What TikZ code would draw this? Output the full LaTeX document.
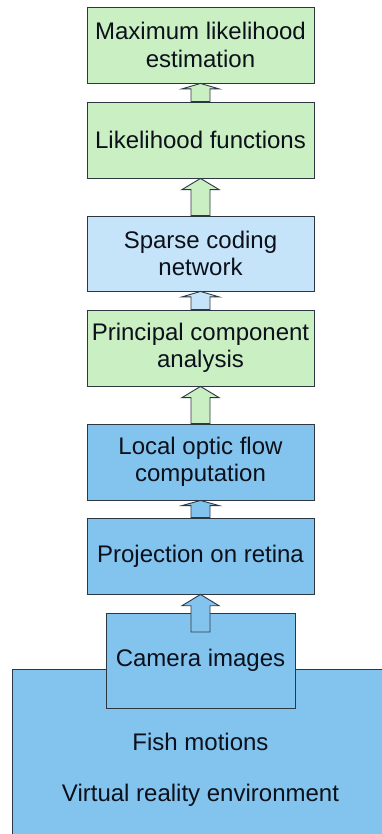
\documentclass[tikz,border=0pt]{standalone}
\usepackage{fontspec}
\setmainfont{Liberation Sans}
\usepackage{xcolor}
\definecolor{ColG}{RGB}{202,239,194}
\definecolor{ColL}{RGB}{198,228,249}
\definecolor{ColB}{RGB}{131,196,238}
\definecolor{ColLine}{RGB}{45,55,65}
\definecolor{ColText}{RGB}{12,16,26}
\usepackage{tikz}
\usetikzlibrary{calc}
\tikzstyle{Box}=[rectangle,draw=ColLine,line width=0.9pt,inner sep=0pt,
minimum width=227pt,minimum height=76pt,align=center,text=ColText,
font=\fontsize{24}{27.5}\selectfont]
\tikzstyle{Label}=[inner sep=0pt,text=ColText,font=\fontsize{24}{27.5}\selectfont]
\tikzstyle{Arrow}=[draw=ColLine,line width=0.9pt,line join=miter]
% hollow block arrow from #2 up to #3, filled with #1
\newcommand{\BlockArrow}[3]{%
  \draw[Arrow,fill=#1] let \p1=(#2),\p2=(#3),\n1={0.3*(\y2-\y1)} in
    (\x1-9.5pt,\y1)--(\x1-9.5pt,\y2-\n1)--(\x1-18.5pt,\y2-\n1)--(\x1,\y2)
    --(\x1+18.5pt,\y2-\n1)--(\x1+9.5pt,\y2-\n1)--(\x1+9.5pt,\y1)--cycle;}

\begin{document}
\begin{tikzpicture}[x=1pt,y=-1pt]
    \useasboundingbox (0,0) rectangle (382,834);
    \clip (0,0) rectangle (382,834);
        \node[Box,fill=ColB,minimum width=377pt,minimum height=220pt,anchor=north west](env)at(12,669){};
        \node[Label](fish)at(200.5,742){Fish motions};
        \node[Label](vr)at(200.5,795){Virtual reality environment};
        \node[Box,fill=ColB,minimum width=189pt,minimum height=95pt](cam)at(200.5,660.5){Camera images};
        \node[Box,fill=ColB](proj)at(200.5,556){Projection on retina};
        \node[Box,fill=ColB](flow)at(200.5,462){Local optic flow\\computation};
        \node[Box,fill=ColG](pca)at(200.5,348){Principal component\\analysis};
        \node[Box,fill=ColL,minimum height=75pt](sparse)at(200.5,253.5){Sparse coding\\network};
        \node[Box,fill=ColG](lik)at(200.5,140){Likelihood functions};
        \node[Box,fill=ColG](mle)at(200.5,45){Maximum likelihood\\estimation};
        \coordinate(camtop)at(200.5,632);
        \BlockArrow{ColB}{camtop}{proj.south}
        \BlockArrow{ColB}{proj.north}{flow.south}
        \BlockArrow{ColG}{flow.north}{pca.south}
        \BlockArrow{ColL}{pca.north}{sparse.south}
        \BlockArrow{ColG}{sparse.north}{lik.south}
        \BlockArrow{ColG}{lik.north}{mle.south}
    \end{tikzpicture}
\end{document}
